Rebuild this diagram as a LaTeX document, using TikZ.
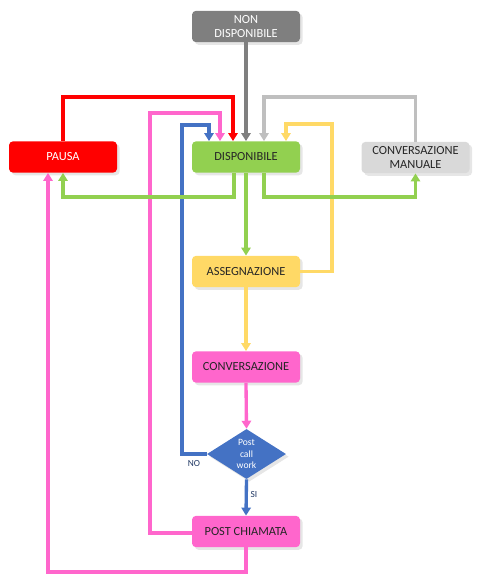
\documentclass[tikz,border=0pt]{standalone}
\usepackage{fontspec}
\setmainfont{Carlito}
\usetikzlibrary{arrows.meta,shapes.geometric,shadows,calc}
\definecolor{ndgray}{HTML}{7F7F7F}
\definecolor{cred}{HTML}{FF0000}
\definecolor{cgreen}{HTML}{92D050}
\definecolor{boxgray}{HTML}{D9D9D9}
\definecolor{linegray}{HTML}{BFBFBF}
\definecolor{cyellow}{HTML}{FFD966}
\definecolor{cpink}{HTML}{FF66CC}
\definecolor{cblue}{HTML}{4472C4}
\definecolor{darktext}{HTML}{262626}
\definecolor{lbltext}{HTML}{203864}
\begin{document}
\begin{tikzpicture}[x=0.75pt,y=-0.75pt,
  box/.style={rectangle, rounded corners=3pt, minimum width=81pt, minimum height=23.5pt,
    inner sep=1pt, align=center, font=\fontsize{9.3}{10}\selectfont,
    drop shadow={shadow xshift=2pt, shadow yshift=-2pt, opacity=0.2}},
  conn/.style={line width=2.5pt, -{Triangle[width=7pt,length=6pt]}},
  lbl/.style={font=\fontsize{7}{8}\selectfont, text=lbltext, inner sep=0pt}
]
\useasboundingbox (0,0) rectangle (488,582);

\node[box, fill=ndgray, text=white] (nd) at (246,26.5) {NON\\DISPONIBILE};
\node[box, fill=cred, text=white] (pausa) at (63,157) {PAUSA};
\node[box, fill=cgreen, text=darktext] (disp) at (246,157) {DISPONIBILE};
\node[box, fill=boxgray, text=darktext] (cm) at (415.5,157.5) {CONVERSAZIONE\\MANUALE};
\node[box, fill=cyellow, text=darktext] (asg) at (246,271.5) {ASSEGNAZIONE};
\node[box, fill=cpink, text=darktext] (conv) at (246,367) {CONVERSAZIONE};
\node[diamond, fill=cblue, text=white, minimum width=59.25pt, minimum height=37.5pt,
  aspect=1.58, inner sep=0pt, align=center, font=\fontsize{7.2}{8.3}\selectfont,
  drop shadow={shadow xshift=2pt, shadow yshift=-2pt, opacity=0.2}] (dia) at (246.5,454) {Post\\call\\work};
\node[box, fill=cpink, text=darktext] (post) at (246,531.5) {POST CHIAMATA};

% connectors
\draw[conn, ndgray] (nd.south) -- (disp.north);
\draw[conn, cred] (pausa.north) |- (233,97) -- ($(disp.north)+(-13,0)$);
\draw[conn, cpink] ($(post.west)+(0,1.5)$) -| (150,113) -| ($(disp.north)+(-26,0)$);
\draw[conn, cblue] (dia.west) -| (182,125) -| ($(disp.north)+(-37,0)$);
\draw[conn, linegray] (cm.north) |- (264,97) -- ($(disp.north)+(18,0)$);
\draw[conn, cyellow] (asg.east) -| (332,124) -| ($(disp.north)+(40,0)$);
\draw[conn, cgreen] ($(disp.south)+(-12,0)$) |- (63,197) -- (pausa.south);
\draw[conn, cgreen] ($(disp.south)+(18,0)$) |- (415.5,197) -- (cm.south);
\draw[conn, cgreen] (disp.south) -- (asg.north);
\draw[conn, cyellow] (asg.south) -- (conv.north);
\draw[conn, cpink] (conv.south) -- (dia.north);
\draw[conn, cblue] (dia.south) -- (post.north);
\draw[conn, cpink] (post.south) |- (48,572) -- ($(pausa.south)+(-15,0)$);

\node[lbl] (si) at (254,494) {SI};
\node[lbl] (no) at (194,463) {NO};
\end{tikzpicture}
\end{document}
